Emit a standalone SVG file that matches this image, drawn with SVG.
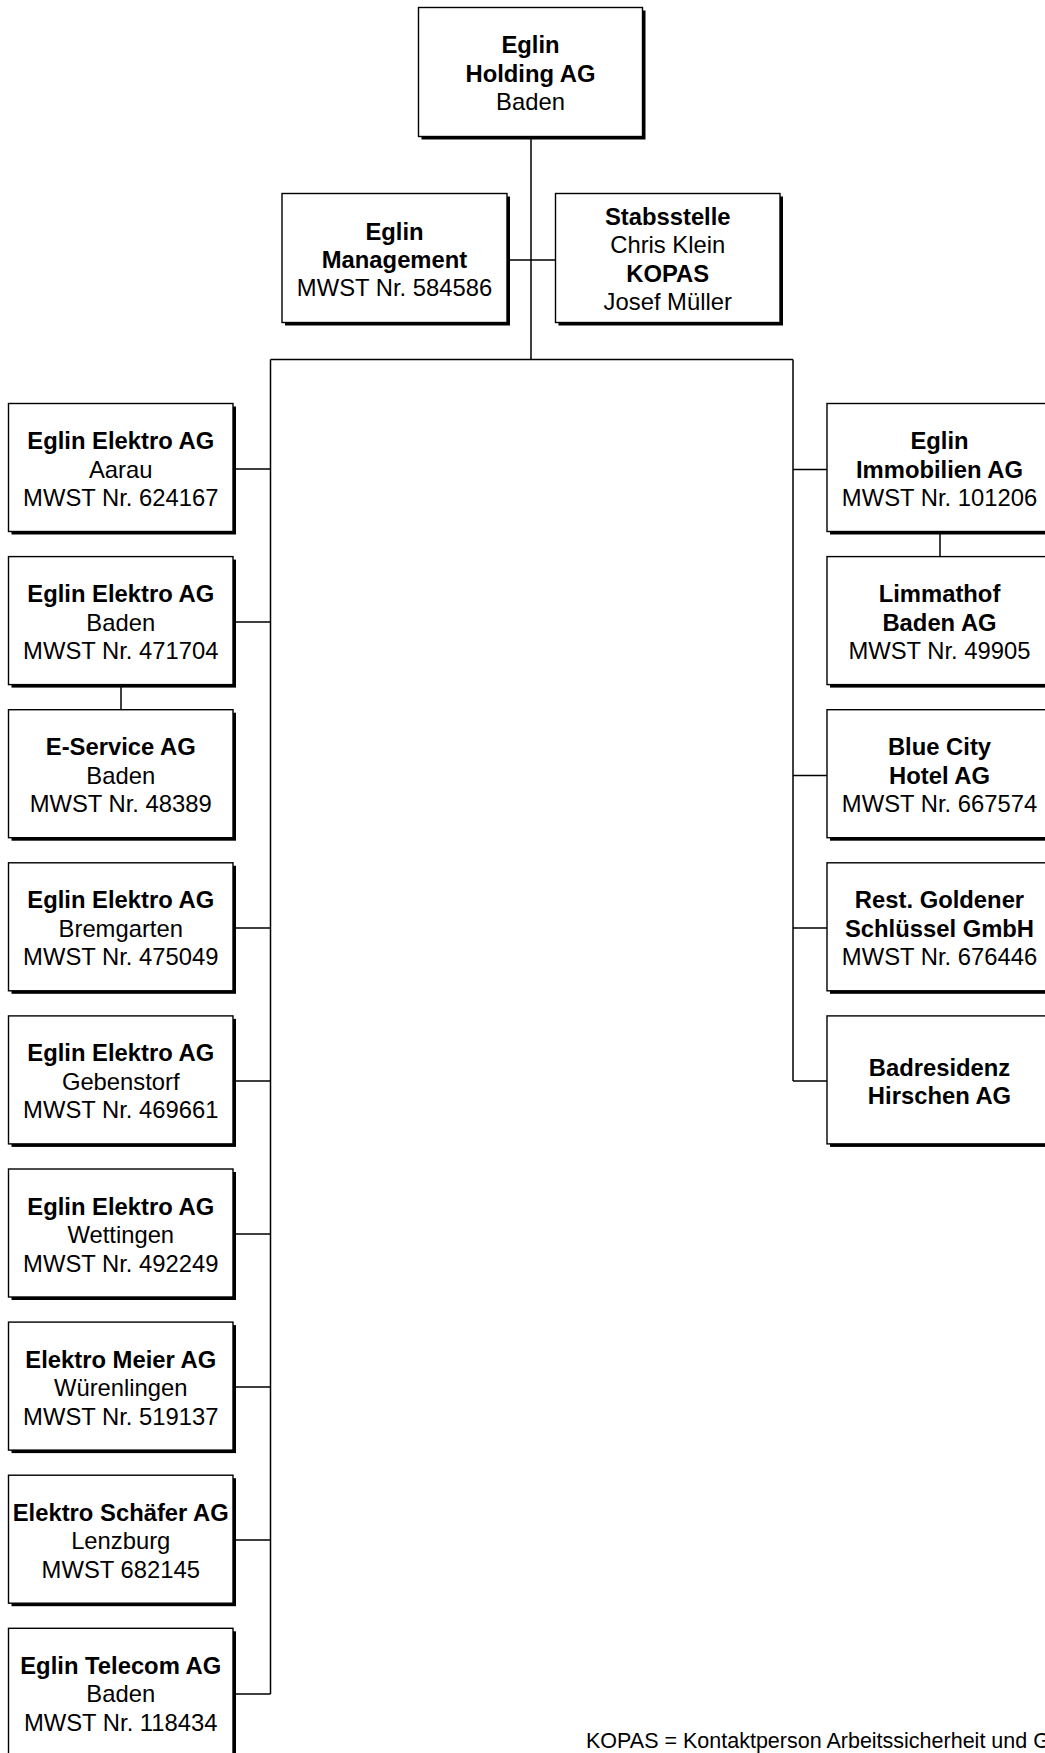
<svg xmlns="http://www.w3.org/2000/svg" width="1045" height="1753" viewBox="0 0 1045 1753">
<style>
.sh{fill:#000}
.bx{fill:#fff;stroke:#000;stroke-width:1.4}
.ln{stroke:#000;stroke-width:1.5;fill:none}
text{font-family:"Liberation Sans",Arial,sans-serif;font-size:23.8px;fill:#000;text-anchor:middle}
.b{font-weight:bold}
.ft{font-size:21.5px;text-anchor:start}
</style>
<rect width="1045" height="1753" fill="#fff"/>
<g id="connectors">
<path class="ln" d="M531,136.5V359.5M507,260H555.5M270.5,359.5H793M270.5,359.5V1694M793,359.5V1081"/>
<path class="ln" d="M233,469H270.5M233,622H270.5M233,928H270.5M233,1081H270.5M233,1234H270.5M233,1387H270.5M233,1540H270.5M233,1694H270.5"/>
<path class="ln" d="M121,684V709.5"/>
<path class="ln" d="M793,469.5H827M793,775.5H827M793,928H827M793,1081H827"/>
<path class="ln" d="M940,531.5V556.5"/>
</g>
<g id="holding">
<rect class="sh" x="421.5" y="10.5" width="224" height="129"/>
<rect class="bx" x="418.5" y="7.5" width="224" height="129"/>
<text x="530.5" y="53" class="b">Eglin</text>
<text x="530.5" y="81.5" class="b">Holding AG</text>
<text x="530.5" y="110">Baden</text>
</g>
<g id="management">
<rect class="sh" x="285" y="196.5" width="225" height="129"/>
<rect class="bx" x="282" y="193.5" width="225" height="129"/>
<text x="394.5" y="239.5" class="b">Eglin</text>
<text x="394.5" y="267.5" class="b">Management</text>
<text x="394.5" y="296">MWST Nr. 584586</text>
</g>
<g id="stabsstelle">
<rect class="sh" x="558.5" y="196.5" width="224.5" height="129"/>
<rect class="bx" x="555.5" y="193.5" width="224.5" height="129"/>
<text x="667.75" y="224.5" class="b">Stabsstelle</text>
<text x="667.75" y="253">Chris Klein</text>
<text x="667.75" y="281.5" class="b">KOPAS</text>
<text x="667.75" y="310">Josef Müller</text>
</g>
<g id="elektro-aarau">
<rect class="sh" x="11.5" y="406.5" width="224.5" height="128"/>
<rect class="bx" x="8.5" y="403.5" width="224.5" height="128"/>
<text x="120.75" y="449" class="b">Eglin Elektro AG</text>
<text x="120.75" y="477.5">Aarau</text>
<text x="120.75" y="506">MWST Nr. 624167</text>
</g>
<g id="elektro-baden">
<rect class="sh" x="11.5" y="559.6" width="224.5" height="128"/>
<rect class="bx" x="8.5" y="556.6" width="224.5" height="128"/>
<text x="120.75" y="602.1" class="b">Eglin Elektro AG</text>
<text x="120.75" y="630.6">Baden</text>
<text x="120.75" y="659.1">MWST Nr. 471704</text>
</g>
<g id="eservice">
<rect class="sh" x="11.5" y="712.7" width="224.5" height="128"/>
<rect class="bx" x="8.5" y="709.7" width="224.5" height="128"/>
<text x="120.75" y="755.2" class="b">E-Service AG</text>
<text x="120.75" y="783.7">Baden</text>
<text x="120.75" y="812.2">MWST Nr. 48389</text>
</g>
<g id="elektro-bremgarten">
<rect class="sh" x="11.5" y="865.8" width="224.5" height="128"/>
<rect class="bx" x="8.5" y="862.8" width="224.5" height="128"/>
<text x="120.75" y="908.3" class="b">Eglin Elektro AG</text>
<text x="120.75" y="936.8">Bremgarten</text>
<text x="120.75" y="965.3">MWST Nr. 475049</text>
</g>
<g id="elektro-gebenstorf">
<rect class="sh" x="11.5" y="1018.9" width="224.5" height="128"/>
<rect class="bx" x="8.5" y="1015.9" width="224.5" height="128"/>
<text x="120.75" y="1061.4" class="b">Eglin Elektro AG</text>
<text x="120.75" y="1089.9">Gebenstorf</text>
<text x="120.75" y="1118.4">MWST Nr. 469661</text>
</g>
<g id="elektro-wettingen">
<rect class="sh" x="11.5" y="1172" width="224.5" height="128"/>
<rect class="bx" x="8.5" y="1169" width="224.5" height="128"/>
<text x="120.75" y="1214.5" class="b">Eglin Elektro AG</text>
<text x="120.75" y="1243">Wettingen</text>
<text x="120.75" y="1271.5">MWST Nr. 492249</text>
</g>
<g id="elektro-meier">
<rect class="sh" x="11.5" y="1325.1" width="224.5" height="128"/>
<rect class="bx" x="8.5" y="1322.1" width="224.5" height="128"/>
<text x="120.75" y="1367.6" class="b">Elektro Meier AG</text>
<text x="120.75" y="1396.1">Würenlingen</text>
<text x="120.75" y="1424.6">MWST Nr. 519137</text>
</g>
<g id="elektro-schaefer">
<rect class="sh" x="11.5" y="1478.2" width="224.5" height="128"/>
<rect class="bx" x="8.5" y="1475.2" width="224.5" height="128"/>
<text x="120.75" y="1520.7" class="b">Elektro Schäfer AG</text>
<text x="120.75" y="1549.2">Lenzburg</text>
<text x="120.75" y="1577.7">MWST 682145</text>
</g>
<g id="telecom">
<rect class="sh" x="11.5" y="1631.3" width="224.5" height="128"/>
<rect class="bx" x="8.5" y="1628.3" width="224.5" height="128"/>
<text x="120.75" y="1673.8" class="b">Eglin Telecom AG</text>
<text x="120.75" y="1702.3">Baden</text>
<text x="120.75" y="1730.8">MWST Nr. 118434</text>
</g>
<g id="immobilien">
<rect class="sh" x="830" y="406.5" width="225" height="128"/>
<rect class="bx" x="827" y="403.5" width="225" height="128"/>
<text x="939.5" y="449" class="b">Eglin</text>
<text x="939.5" y="477.5" class="b">Immobilien AG</text>
<text x="939.5" y="506">MWST Nr. 101206</text>
</g>
<g id="limmathof">
<rect class="sh" x="830" y="559.6" width="225" height="128"/>
<rect class="bx" x="827" y="556.6" width="225" height="128"/>
<text x="939.5" y="602.1" class="b">Limmathof</text>
<text x="939.5" y="630.6" class="b">Baden AG</text>
<text x="939.5" y="659.1">MWST Nr. 49905</text>
</g>
<g id="bluecity">
<rect class="sh" x="830" y="712.7" width="225" height="128"/>
<rect class="bx" x="827" y="709.7" width="225" height="128"/>
<text x="939.5" y="755.2" class="b">Blue City</text>
<text x="939.5" y="783.7" class="b">Hotel AG</text>
<text x="939.5" y="812.2">MWST Nr. 667574</text>
</g>
<g id="goldener-schluessel">
<rect class="sh" x="830" y="865.8" width="225" height="128"/>
<rect class="bx" x="827" y="862.8" width="225" height="128"/>
<text x="939.5" y="908.3" class="b">Rest. Goldener</text>
<text x="939.5" y="936.8" class="b">Schlüssel GmbH</text>
<text x="939.5" y="965.3">MWST Nr. 676446</text>
</g>
<g id="badresidenz">
<rect class="sh" x="830" y="1018.9" width="225" height="128"/>
<rect class="bx" x="827" y="1015.9" width="225" height="128"/>
<text x="939.5" y="1075.9" class="b">Badresidenz</text>
<text x="939.5" y="1104.4" class="b">Hirschen AG</text>
</g>
<text class="ft" x="586" y="1748">KOPAS = Kontaktperson Arbeitssicherheit und G</text>
</svg>
